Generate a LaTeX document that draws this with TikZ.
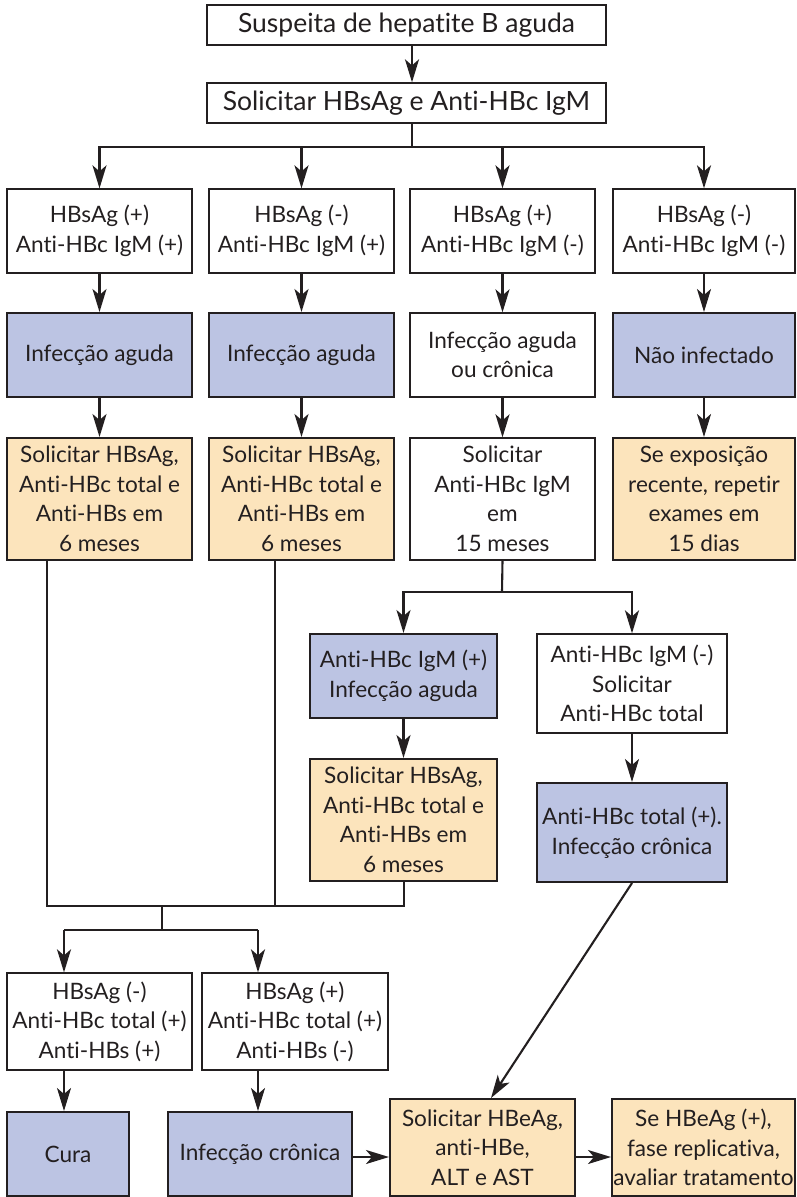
\documentclass[tikz,border=0pt]{standalone}
\usepackage{fontspec}
\setmainfont{Lato}[Ligatures=NoCommon]
\usetikzlibrary{arrows.meta}
\definecolor{ink}{HTML}{231F20}
\definecolor{bluefill}{HTML}{BCC4E3}
\definecolor{orfill}{HTML}{FCE4BC}
\tikzset{
  base/.style={draw=ink, inner sep=0pt, align=center, font=\fontsize{22.6}{29.5}\selectfont, text=ink},
  wbox/.style={base, line width=1.3pt, fill=white},
  bbox/.style={base, line width=2pt, fill=bluefill},
  obox/.style={base, line width=2pt, fill=orfill},
  tbox/.style={wbox, font=\fontsize{26.5}{30}\selectfont},
  conn/.style={draw=ink, line width=2.1pt},
  arr/.style={conn, -{Stealth[length=23pt,width=14pt,inset=6pt]}},
}
\begin{document}
\begin{tikzpicture}[x=1pt,y=-1pt]
\useasboundingbox (0,0) rectangle (796,1197);
% top
\node[tbox, minimum width=399pt, minimum height=40pt] (top) at (406.5,25) {Suspeita de hepatite B aguda};
\node[tbox, minimum width=399pt, minimum height=40pt] (sol) at (406.5,103) {Solicitar HBsAg e Anti-HBc IgM};
% row 1
\node[wbox, minimum width=185pt, minimum height=84pt] (r1a) at (99.5,231) {HBsAg (+)\\Anti-HBc IgM (+)};
\node[wbox, minimum width=185pt, minimum height=84pt] (r1b) at (301.5,231) {HBsAg (-)\\Anti-HBc IgM (+)};
\node[wbox, minimum width=185pt, minimum height=84pt] (r1c) at (502.5,231) {HBsAg (+)\\Anti-HBc IgM (-)};
\node[wbox, minimum width=182pt, minimum height=84pt] (r1d) at (704,231) {HBsAg (-)\\Anti-HBc IgM (-)};
% row 2
\node[bbox, minimum width=185pt, minimum height=84pt] (r2a) at (99.5,355) {Infecção aguda};
\node[bbox, minimum width=185pt, minimum height=84pt] (r2b) at (301.5,355) {Infecção aguda};
\node[wbox, minimum width=185pt, minimum height=84pt] (r2c) at (502.5,355) {Infecção aguda\\ou crônica};
\node[bbox, minimum width=182pt, minimum height=84pt] (r2d) at (704,355) {Não infectado};
% row 3
\node[obox, minimum width=185pt, minimum height=122pt] (r3a) at (99.5,499) {Solicitar HBsAg,\\Anti-HBc total e\\Anti-HBs em\\6 meses};
\node[obox, minimum width=185pt, minimum height=122pt] (r3b) at (301.5,499) {Solicitar HBsAg,\\Anti-HBc total e\\Anti-HBs em\\6 meses};
\node[wbox, minimum width=185pt, minimum height=122pt] (r3c) at (502.5,499) {Solicitar\\Anti-HBc IgM\\em\\15 meses};
\node[obox, minimum width=182pt, minimum height=122pt] (r3d) at (704,499) {Se exposição\\recente, repetir\\exames em\\15 dias};
% middle
\node[bbox, minimum width=187pt, minimum height=84pt] (m1) at (403.5,676) {Anti-HBc IgM (+)\\Infecção aguda};
\node[wbox, minimum width=190pt, minimum height=99pt] (m2) at (632,683.5) {Anti-HBc IgM (-)\\Solicitar\\Anti-HBc total};
\node[obox, minimum width=187pt, minimum height=122pt] (m3) at (403.5,820) {Solicitar HBsAg,\\Anti-HBc total e\\Anti-HBs em\\6 meses};
\node[bbox, minimum width=190pt, minimum height=99pt] (m4) at (632,832.5) {Anti-HBc total (+).\\Infecção crônica};
% row 4
\node[wbox, minimum width=185pt, minimum height=97pt] (r4a) at (99.5,1021.5) {HBsAg (-)\\Anti-HBc total (+)\\Anti-HBs (+)};
\node[wbox, minimum width=186pt, minimum height=97pt] (r4b) at (295,1021.5) {HBsAg (+)\\Anti-HBc total (+)\\Anti-HBs (-)};
% bottom
\node[bbox, minimum width=122pt, minimum height=84pt] (b1) at (68,1154) {Cura};
\node[bbox, minimum width=184pt, minimum height=84pt] (b2) at (260,1154) {Infecção crônica};
\node[obox, minimum width=185pt, minimum height=97pt] (b3) at (482.5,1147.5) {Solicitar HBeAg,\\anti-HBe,\\ALT e AST};
\node[obox, minimum width=183pt, minimum height=97pt] (b4) at (703.5,1147.5) {Se HBeAg (+),\\fase replicativa,\\avaliar tratamento};
% junctions
\coordinate (j1) at (412,147);
\coordinate (j2) at (502,592);
\coordinate (k1) at (47,906);
\coordinate (k2) at (275,906);
\coordinate (k3) at (404,906);
\coordinate (j3) at (162,906);
\coordinate (j4) at (162,930);
\coordinate (q1) at (64,930);
\coordinate (q2) at (258,930);
\coordinate (hh) at (0,1157);
% connectors
\draw[arr] ([xshift=5.5pt]top.south) -- ([xshift=5.5pt]sol.north);
\draw[conn] ([xshift=5.5pt]sol.south) -- (j1);
\draw[arr] (j1) -| (r1a.north);
\draw[arr] (j1) -| (r1b.north);
\draw[arr] (j1) -| (r1c.north);
\draw[arr] (j1) -| (r1d.north);
\foreach \c in {a,b,c,d} {
  \draw[arr] (r1\c.south) -- (r2\c.north);
  \draw[arr] (r2\c.south) -- (r3\c.north);
}
\draw[conn] (r3c.south) -- (j2);
\draw[arr] (j2) -| (m1.north);
\draw[arr] (j2) -| (m2.north);
\draw[arr] (m1.south) -- (m3.north);
\draw[arr] (m2.south) -- (m4.north);
\draw[conn] (r3a.south -| k1) -- (k1) -- (k3) -- (m3.south -| k3);
\draw[conn] (r3b.south -| k2) -- (k2);
\draw[conn] (j3) -- (j4);
\draw[conn] (q1) -- (q2);
\draw[arr] (q1) -- (q1 |- r4a.north);
\draw[arr] (q2) -- (q2 |- r4b.north);
\draw[arr] (r4a.south -| q1) -- (b1.north -| q1);
\draw[arr] (r4b.south -| q2) -- (b2.north -| q2);
\draw[arr] (b2.east |- hh) -- (b3.west |- hh);
\draw[arr] (b3.east |- hh) -- (b4.west |- hh);
\draw[arr] (m4.south) -- ([xshift=8.5pt]b3.north);
\end{tikzpicture}
\end{document}
